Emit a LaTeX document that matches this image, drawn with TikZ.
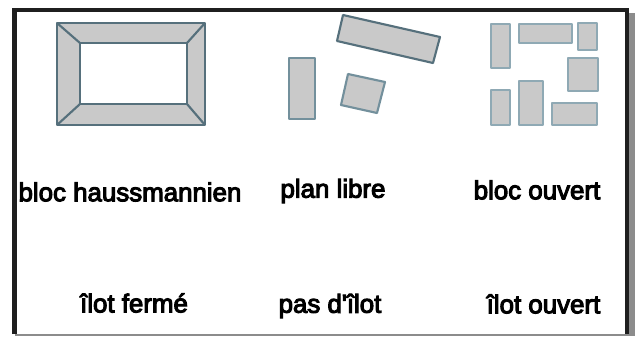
\documentclass[tikz,border=0pt]{standalone}
\usepackage{fontspec}
\newfontfamily\lblfont[FakeBold=4]{Liberation Sans}
\definecolor{blocfill}{HTML}{C9C9C9}
\definecolor{blocedge}{HTML}{56707C}
\definecolor{midedge}{HTML}{73909C}
\definecolor{paleedge}{HTML}{8FA9B4}
\definecolor{shadowgray}{HTML}{8C8C8C}
\tikzset{
  blocshape/.style={draw=blocedge,fill=blocfill,line width=1.6pt,line join=round},
  paleshape/.style={draw=paleedge,fill=blocfill,line width=1.3pt,line join=round},
  blocedge/.style={draw=blocedge,line width=1.6pt},
  lbl/.style={font=\lblfont\fontsize{19.4}{22}\selectfont,text=black,inner sep=0pt}
}
\begin{document}
\begin{tikzpicture}[x=0.75pt,y=-0.75pt]
  \useasboundingbox (0,0) rectangle (635,336);

  % Shadow and frame
  \fill[shadowgray] (629,13) rectangle (635,336);
  \fill[shadowgray] (15,334) rectangle (635,336);
  \fill[white] (15,10) rectangle (627,334);
  \draw[line width=3.2pt,draw=black!88] (14.5,334) -- (14.5,10) -- (627,10) -- (627,334);

  % Bloc haussmannien
  \fill[blocfill,even odd rule] (57,23) rectangle (205,125) (80,43) rectangle (187,104);
  \draw[blocshape,fill=none] (57,23) rectangle (205,125);
  \draw[blocshape,fill=white] (80,43) rectangle (187,104);
  \draw[blocedge] (57,23) -- (80,43);
  \draw[blocedge] (205,23) -- (187,43);
  \draw[blocedge] (57,125) -- (80,104);
  \draw[blocedge] (205,125) -- (187,104);

  % Plan libre
  \draw[paleshape,draw=midedge] (289,58) rectangle (315,119);
  \draw[blocshape] (343,15) -- (440,37) -- (433,63) -- (337,41) -- cycle;
  \draw[blocshape,draw=midedge] (348,74) -- (385,82) -- (377,113) -- (341,105) -- cycle;

  % Bloc ouvert
  \foreach \xa/\ya/\xb/\yb in {491/24/510/68,519/24/572/43,578/23/597/50,568/58/598/91,
      491/90/510/125,519/81/543/125,552/103/597/125}
    \draw[paleshape] (\xa,\ya) rectangle (\xb,\yb);

  % Labels
  \node[lbl] (haussmann) at (130,192) {bloc haussmannien};
  \node[lbl] (planlibre) at (333,191) {plan libre};
  \node[lbl] (blocouvert) at (537,190) {bloc ouvert};
  \node[lbl] (ilotferme) at (134,303) {îlot fermé};
  \node[lbl] (pasilot) at (330,306) {pas d'îlot};
  \node[lbl] (ilotouvert) at (543.5,304) {îlot ouvert};
\end{tikzpicture}
\end{document}
